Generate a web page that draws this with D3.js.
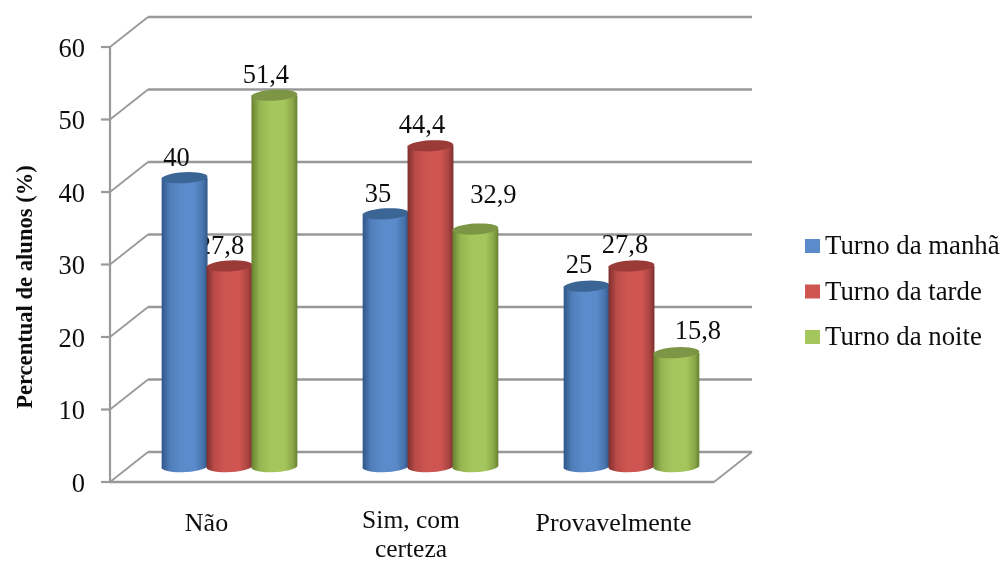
<!DOCTYPE html>
<html><head><meta charset="utf-8">
<script src="https://d3js.org/d3.v7.min.js"></script>
<style>html,body{margin:0;background:#fff}svg{display:block;font-family:"Liberation Serif",serif;fill:#111}</style>
</head><body><svg width="1001" height="563"></svg>
<script>
const categories = ["Não", "Sim, com|certeza", "Provavelmente"];
const seriesNames = ["Turno da manhã", "Turno da tarde", "Turno da noite"];
const manha = [40, 35, 25];
const tarde = [27.8, 44.4, 27.8];
const noite = [51.4, 32.9, 15.8];
const labels = [["40","35","25"],["27,8","44,4","27,8"],["51,4","32,9","15,8"]];
const ticks = [0,10,20,30,40,50,60];
const colors = [
 {l:"#5b8bcb",d:"#2f5687",t:"#3b6595"},
 {l:"#cf5552",d:"#7d2f2d",t:"#9a3b39"},
 {l:"#a5c65c",d:"#66812f",t:"#7b9645"}];
const series = [manha, tarde, noite];
const svg = d3.select("svg");
const defs = svg.append("defs");
defs.append("filter").attr("id","soft").append("feGaussianBlur").attr("stdDeviation",0.55);
colors.forEach((c,i)=>{
  const g = defs.append("linearGradient").attr("id","g"+i);
  [[0,c.d],[.18,d3.interpolateRgb(c.d,c.l)(.75)],[.42,c.l],[.72,c.l],[.9,d3.interpolateRgb(c.d,c.l)(.55)],[1,c.d]]
    .forEach(s=>g.append("stop").attr("offset",s[0]).attr("stop-color",s[1]));
});
// scales
const yFront = d3.scaleLinear().domain([0,60]).range([482,47]);
const yBack  = d3.scaleLinear().domain([0,60]).range([452,17]);
const yBar   = d3.scaleLinear().domain([0,60]).range([467,33]);
const xGroup = d3.scaleBand().domain(d3.range(3)).range([128.5,731.5]).paddingInner(0.33).paddingOuter(0.165);
const xBar   = d3.scaleBand().domain(d3.range(3)).range([0,xGroup.bandwidth()]);
const grid = svg.append("g").attr("filter","url(#soft)");
const wall = "#999";
const dx0 = 110, dx1 = 148, xEnd = 752, xFloorEnd = 714;
ticks.forEach(t=>{
  grid.append("line").attr("x1",dx0).attr("x2",dx1).attr("y1",yFront(t)).attr("y2",yBack(t)).attr("stroke",wall).attr("stroke-width",1.8);
  grid.append("line").attr("x1",dx1).attr("x2",xEnd).attr("y1",yBack(t)).attr("y2",yBack(t)).attr("stroke",wall).attr("stroke-width",2.4);
  grid.append("line").attr("x1",dx0-9).attr("x2",dx0).attr("y1",yFront(t)).attr("y2",yFront(t)).attr("stroke",wall).attr("stroke-width",2.2);
});
grid.append("line").attr("x1",dx0).attr("x2",dx0).attr("y1",yFront(60)).attr("y2",yFront(0)).attr("stroke",wall).attr("stroke-width",2.2);
grid.append("line").attr("x1",dx0).attr("x2",xFloorEnd).attr("y1",yFront(0)).attr("y2",yFront(0)).attr("stroke",wall).attr("stroke-width",2.6);
grid.append("line").attr("x1",xFloorEnd).attr("x2",xEnd).attr("y1",yFront(0)).attr("y2",yBack(0)).attr("stroke",wall).attr("stroke-width",1.8);
// y tick labels
const txt = svg.append("g").attr("filter","url(#soft)");
ticks.forEach(t=>{
  txt.append("text").attr("x",85).attr("y",yFront(t)+9.5).attr("text-anchor","end").attr("font-size",26.5).text(t);
});
txt.append("text").attr("transform","translate(32,287) rotate(-90)").attr("text-anchor","middle")
  .attr("font-size",22.6).attr("font-weight","bold").text("Percentual de alunos (%)");
// cylinders
const ry = 5.5;
const bars = svg.append("g").attr("filter","url(#soft)");
categories.forEach((cat,gi)=>{
  series.forEach((vals,si)=>{
    const x0 = xGroup(gi)+xBar(si), w = xBar.bandwidth()+1, cx = x0+w/2, rx = w/2;
    const top = yBar(vals[gi]), base = yBar(0);
    bars.append("path").attr("fill",`url(#g${si})`)
      .attr("d",`M${x0},${top}L${x0},${base}A${rx},${ry} -3 0 0 ${x0+w},${base-1}L${x0+w},${top}Z`);
    bars.append("ellipse").attr("cx",cx).attr("cy",top).attr("rx",rx).attr("ry",ry)
      .attr("transform",`rotate(-3 ${cx} ${top})`).attr("fill",colors[si].t);
  });
});
// value labels
const labelDx = [[-7.5,-7,-7],[-8,-8,-6],[-8,18.5,22]];
const labelDy = [[-11.6,-12,-13],[-12,-12.7,-13],[-12,-26,-13.7]];
categories.forEach((cat,gi)=>{
  series.forEach((vals,si)=>{
    const cx = xGroup(gi)+xBar(si)+xBar.bandwidth()/2;
    txt.append("text").attr("x",cx+labelDx[si][gi]).attr("y",yBar(vals[gi])+labelDy[si][gi])
      .attr("text-anchor","middle").attr("font-size",26.5).text(labels[si][gi]);
  });
});
// category labels
const catX = [206.5,411,613.5];
categories.forEach((cat,gi)=>{
  const lines = cat.split("|");
  lines.forEach((ln,i)=>{
    txt.append("text").attr("x",catX[gi]).attr("y",lines.length>1 ? 527.5+i*29.8 : 531)
      .attr("text-anchor","middle").attr("font-size",lines.length>1 ? 25.5 : 26).text(ln);
  });
});
// legend
const legY = d3.scalePoint().domain(d3.range(3)).range([246,337]);
seriesNames.forEach((n,i)=>{
  txt.append("rect").attr("x",805).attr("y",legY(i)-7).attr("width",15).attr("height",14).attr("fill",colors[i].l);
  txt.append("text").attr("x",825).attr("y",legY(i)+8).attr("font-size",26.8).text(n);
});
</script></body></html>
